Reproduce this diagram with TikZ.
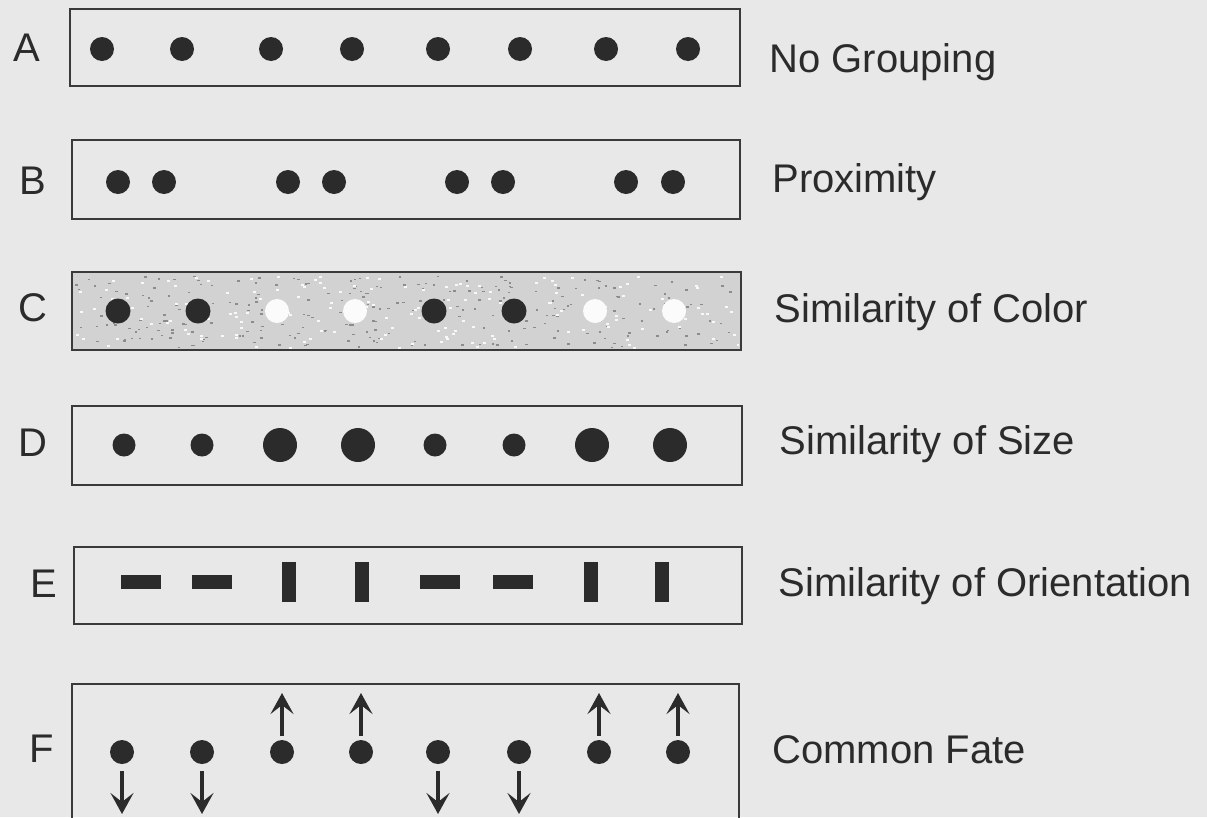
\documentclass[tikz,border=0pt]{standalone}
\usepackage{fontspec}
\setmainfont{Liberation Sans}
\usetikzlibrary{arrows.meta}
\definecolor{bg}{HTML}{E8E8E8}
\definecolor{ink}{HTML}{2B2B2B}
\definecolor{frame}{HTML}{3A3A3A}
\definecolor{shade}{HTML}{D2D2D2}
\tikzset{
  panel/.style={draw=frame, line width=2pt},
  dot/.style={circle, fill=ink, inner sep=0pt, minimum size=#1},
  dot/.default=24pt,
  wdot/.style={circle, fill=white!92!shade, inner sep=0pt, minimum size=24pt},
  hbar/.style={rectangle, fill=ink, inner sep=0pt, minimum width=40pt, minimum height=14pt},
  vbar/.style={rectangle, fill=ink, inner sep=0pt, minimum width=14pt, minimum height=40pt},
  letter/.style={anchor=base, text=ink, font=\fontsize{40}{48}\selectfont},
  caption/.style={anchor=base west, text=ink, font=\fontsize{40}{48}\selectfont},
  mv/.style={draw=ink, line width=3.2pt, shorten <=7pt, -{Stealth[length=21pt,width=23pt,inset=9pt]}}
}
\begin{document}
\begin{tikzpicture}[x=1pt,y=-1pt]
\useasboundingbox (0,0) rectangle (1207,817);
\fill[bg] (0,0) rectangle (1207,817);
\begin{scope}
\clip (0,0) rectangle (1207,817);
% Panels
\draw[panel] (70,9) rectangle (740,86);
\draw[panel] (72,140) rectangle (740,219);
\draw[panel, fill=shade] (72,272) rectangle (741,350);
\draw[panel] (72,406) rectangle (742,485);
\draw[panel] (74,547) rectangle (742,624);
\draw[panel] (72,684) rectangle (739,830);
\end{scope}
% speckle texture in C
\begin{scope}
\clip (74,274) rectangle (739,348);
\pgfmathsetseed{7}
\foreach \i in {1,...,260}{
  \pgfmathsetmacro{\px}{75+663*rnd}
  \pgfmathsetmacro{\py}{275+72*rnd}
  \fill[black!45] (\px,\py) rectangle ++(2.5,1.5);
}
\foreach \i in {1,...,160}{
  \pgfmathsetmacro{\px}{75+663*rnd}
  \pgfmathsetmacro{\py}{275+72*rnd}
  \fill[white!85!shade] (\px,\py) rectangle ++(3,2);
}
\end{scope}
% Row letters
\node[letter] (lA) at (27,61) {A};
\node[letter] (lB) at (33,194) {B};
\node[letter] (lC) at (33,321) {C};
\node[letter] (lD) at (33,456) {D};
\node[letter] (lE) at (44,597) {E};
\node[letter] (lF) at (42,762) {F};
% Captions
\node[caption] (cA) at (766,72) {No Grouping};
\node[caption] (cB) at (769,192) {Proximity};
\node[caption] (cC) at (771,322) {Similarity of Color};
\node[caption] (cD) at (776,454) {Similarity of Size};
\node[caption] (cE) at (775,596) {Similarity of Orientation};
\node[caption] (cF) at (769,763) {Common Fate};
% A: no grouping
\foreach \x [count=\k] in {102,182,271,352,438,520,606,688}
  \node[dot] (a\k) at (\x,49) {};
% B: proximity
\foreach \x [count=\k] in {118,164,288,334,457,503,626,673}
  \node[dot] (b\k) at (\x,182) {};
% C: color
\foreach \x [count=\k] in {118,198,434,514}
  \node[dot=25pt] (cb\k) at (\x,311) {};
\foreach \x [count=\k] in {277,355,595,674}
  \node[wdot] (cw\k) at (\x,311) {};
% D: size
\foreach \x [count=\k] in {124,202,435,514}
  \node[dot=23pt] (ds\k) at (\x,445) {};
\foreach \x [count=\k] in {280,358,592,670}
  \node[dot=34pt] (dl\k) at (\x,445) {};
% E: orientation
\foreach \x [count=\k] in {141,212,440,513}
  \node[hbar] (eh\k) at (\x,582) {};
\foreach \x [count=\k] in {289,362,591,662}
  \node[vbar] (ev\k) at (\x,582) {};
% F: common fate
\foreach \x [count=\k] in {122,202,438,519}{
  \node[dot] (fd\k) at (\x,752) {};
  \coordinate (fdt\k) at (\x,814);
  \draw[mv] (fd\k.south) -- (fdt\k);
}
\foreach \x [count=\k] in {282,361,599,678}{
  \node[dot] (fu\k) at (\x,752) {};
  \coordinate (fut\k) at (\x,693);
  \draw[mv, shorten <=4pt] (fu\k.north) -- (fut\k);
}
\end{tikzpicture}
\end{document}
